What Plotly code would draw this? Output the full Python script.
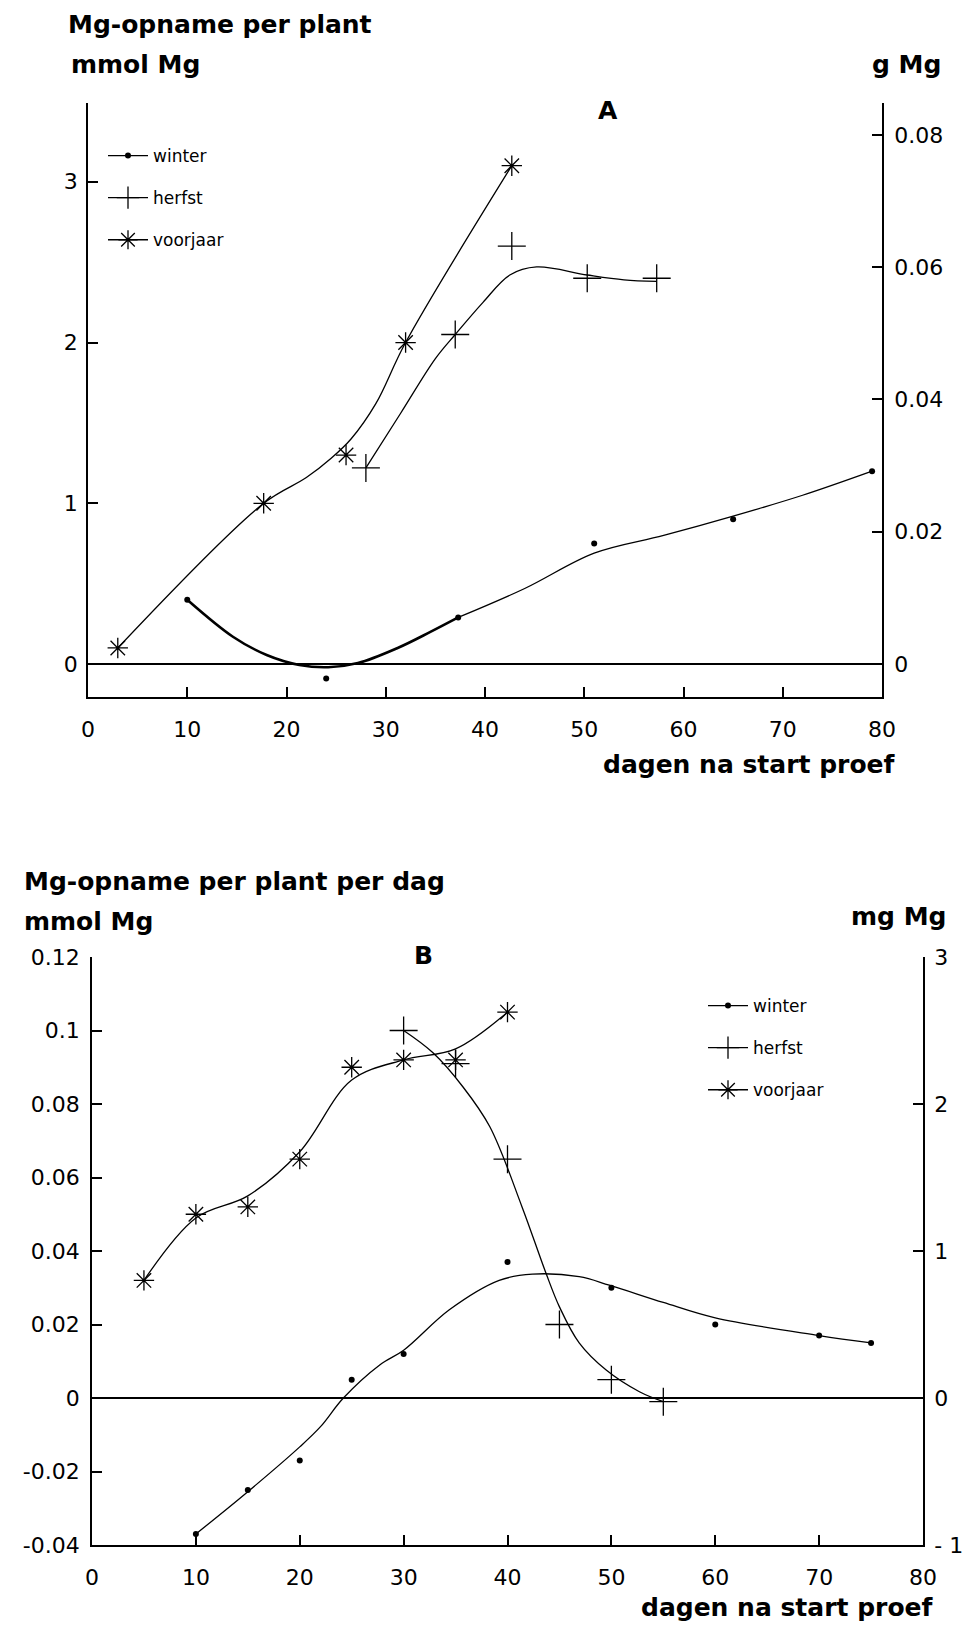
import plotly.graph_objects as go

W, H = 967, 1629

# ---------------- Panel A: cumulative Mg uptake per plant (mmol Mg) ----------------
a_winter_days = [10, 24, 37.3, 51, 65, 79]
a_winter_mmol = [0.40, -0.09, 0.29, 0.75, 0.90, 1.20]
a_herfst_days = [28, 37, 42.7, 50.3, 57.3]
a_herfst_mmol = [1.22, 2.05, 2.60, 2.40, 2.40]
a_voorjaar_days = [3, 17.7, 26, 32, 42.7]
a_voorjaar_mmol = [0.10, 1.00, 1.30, 2.00, 3.10]

# hand-fitted trend curves (knots)
a_winter_fit1_days = [10, 14.6, 18, 21.3, 24.2, 27.2, 31.2, 34.5, 37.3]
a_winter_fit1_mmol = [0.40, 0.17, 0.056, -0.006, -0.02, 0.006, 0.10, 0.20, 0.29]
a_winter_fit2_days = [37.3, 44, 51, 58, 65, 72, 79]
a_winter_fit2_mmol = [0.29, 0.47, 0.69, 0.80, 0.92, 1.05, 1.20]
a_herfst_fit_days = [28, 31.5, 35, 37, 39.8, 42.5, 45.2, 50.3, 54, 57.3]
a_herfst_fit_mmol = [1.22, 1.56, 1.90, 2.05, 2.25, 2.42, 2.47, 2.42, 2.39, 2.38]
a_voorjaar_fit_days = [3, 17.7, 22, 24.5, 26.5, 29, 32, 42.7]
a_voorjaar_fit_mmol = [0.10, 1.00, 1.16, 1.28, 1.40, 1.62, 2.00, 3.10]

a_x_ticks = [0, 10, 20, 30, 40, 50, 60, 70, 80]
a_y_ticks = [0, 1, 2, 3]
a_y2_ticks = [0, 0.02, 0.04, 0.06, 0.08]
a_y2_text = ["0", "0.02", "0.04", "0.06", "0.08"]
a_y_range = [-0.205, 3.49]
MG_G_PER_MMOL = 0.024305

# ---------------- Panel B: Mg uptake per plant per day (mmol Mg) ----------------
b_winter_days = [10, 15, 20, 25, 30, 40, 50, 60, 70, 75]
b_winter_mmol = [-0.037, -0.025, -0.017, 0.005, 0.012, 0.037, 0.030, 0.020, 0.017, 0.015]
b_herfst_days = [30, 35, 40, 45, 50, 55]
b_herfst_mmol = [0.100, 0.091, 0.065, 0.020, 0.005, -0.001]
b_voorjaar_days = [5, 10, 15, 20, 25, 30, 35, 40]
b_voorjaar_mmol = [0.032, 0.050, 0.052, 0.065, 0.090, 0.092, 0.092, 0.105]

b_winter_fit_days = [10, 15, 20, 22, 24.2, 27.7, 30, 34.4, 39.2, 42.4, 46.9, 49.8,
                     55, 60, 70, 75]
b_winter_fit_mmol = [-0.037, -0.0255, -0.0133, -0.0078, 0.0, 0.009, 0.013, 0.024,
                     0.032, 0.0337, 0.033, 0.0307, 0.026, 0.0218, 0.017, 0.015]
b_herfst_fit_days = [30, 32.8, 35.7, 38.3, 41.4, 43.7, 45, 46.9, 49.5, 52.7, 55]
b_herfst_fit_mmol = [0.100, 0.094, 0.0847, 0.0738, 0.052, 0.034, 0.0248, 0.015,
                     0.0076, 0.0017, -0.001]
b_voorjaar_fit_days = [5, 10, 15, 20, 25, 30, 35, 40]
b_voorjaar_fit_mmol = [0.032, 0.049, 0.055, 0.067, 0.0865, 0.092, 0.095, 0.105]

b_x_ticks = [0, 10, 20, 30, 40, 50, 60, 70, 80]
b_y_ticks = [-0.04, -0.02, 0, 0.02, 0.04, 0.06, 0.08, 0.1, 0.12]
b_y_text = ["-0.04", "-0.02", "0", "0.02", "0.04", "0.06", "0.08", "0.1", "0.12"]
b_y2_ticks = [-1, 0, 1, 2, 3]
b_y2_text = ["- 1", "0", "1", "2", "3"]

series_names = ["winter", "herfst", "voorjaar"]

# ---------------- styling ----------------
INK = "black"
TICK_FONT = dict(family="DejaVu Sans", size=22, color=INK)
LEG_FONT = dict(family="DejaVu Sans", size=17, color=INK)

MARK = {
    "winter": dict(symbol="circle", size=6, color=INK),
    "herfst": dict(symbol="cross-thin-open", size=20, color=INK, line=dict(width=1.3, color=INK)),
    "voorjaar": dict(symbol="asterisk-open", size=17, color=INK, line=dict(width=1.3, color=INK)),
}


def px_x(p):
    return p / W


def px_y(p):
    return 1 - p / H


fig = go.Figure()


def add_curve(x, y, xa, ya, width=1.3):
    fig.add_trace(go.Scatter(x=x, y=y, xaxis=xa, yaxis=ya, mode="lines",
                             line=dict(color=INK, width=width, shape="spline", smoothing=1.0),
                             showlegend=False, hoverinfo="skip"))


def add_points(x, y, xa, ya, name):
    fig.add_trace(go.Scatter(x=x, y=y, xaxis=xa, yaxis=ya, mode="markers",
                             marker=MARK[name], showlegend=False, name=name))


def add_legend_entry(name, xa, ya, legend):
    fig.add_trace(go.Scatter(x=[None], y=[None], xaxis=xa, yaxis=ya, mode="lines+markers",
                             name=name, marker=MARK[name], line=dict(color=INK, width=1.3),
                             legend=legend, legendgroup=legend + name, showlegend=True))


# Panel A
add_curve(a_winter_fit1_days, a_winter_fit1_mmol, "x", "y", width=2.6)
add_curve(a_winter_fit2_days, a_winter_fit2_mmol, "x", "y")
add_curve(a_herfst_fit_days, a_herfst_fit_mmol, "x", "y")
add_curve(a_voorjaar_fit_days, a_voorjaar_fit_mmol, "x", "y")
add_points(a_winter_days, a_winter_mmol, "x", "y", "winter")
add_points(a_herfst_days, a_herfst_mmol, "x", "y", "herfst")
add_points(a_voorjaar_days, a_voorjaar_mmol, "x", "y", "voorjaar")
fig.add_trace(go.Scatter(x=[None], y=[None], xaxis="x", yaxis="y2", showlegend=False))
for n in series_names:
    add_legend_entry(n, "x", "y", "legend")

# Panel B
add_curve(b_winter_fit_days, b_winter_fit_mmol, "x2", "y3")
add_curve(b_herfst_fit_days, b_herfst_fit_mmol, "x2", "y3")
add_curve(b_voorjaar_fit_days, b_voorjaar_fit_mmol, "x2", "y3")
add_points(b_winter_days, b_winter_mmol, "x2", "y3", "winter")
add_points(b_herfst_days, b_herfst_mmol, "x2", "y3", "herfst")
add_points(b_voorjaar_days, b_voorjaar_mmol, "x2", "y3", "voorjaar")
fig.add_trace(go.Scatter(x=[None], y=[None], xaxis="x2", yaxis="y4", showlegend=False))
for n in series_names:
    add_legend_entry(n, "x2", "y3", "legend2")

axis_common = dict(showline=True, linecolor=INK, linewidth=1.8, ticks="inside",
                   ticklen=10, tickwidth=1.5, tickcolor=INK, showgrid=False,
                   tickfont=TICK_FONT, fixedrange=True, automargin=False)

a_dom_x = [px_x(88), px_x(882)]
a_dom_y = [px_y(697), px_y(103)]
b_dom_x = [px_x(92), px_x(923)]
b_dom_y = [px_y(1545), px_y(957)]

fig.update_layout(
    width=W, height=H, autosize=False,
    margin=dict(l=0, r=0, t=0, b=0, pad=0),
    paper_bgcolor="white", plot_bgcolor="white",
    xaxis=dict(domain=a_dom_x, range=[0, 80], anchor="y", tickvals=a_x_ticks,
               zeroline=False, ticklabelstandoff=12, **axis_common),
    yaxis=dict(domain=a_dom_y, range=a_y_range, anchor="x", tickvals=a_y_ticks,
               zeroline=True, zerolinecolor=INK, zerolinewidth=2,
               ticklabelstandoff=4, **axis_common),
    yaxis2=dict(range=[a_y_range[0] * MG_G_PER_MMOL, a_y_range[1] * MG_G_PER_MMOL],
                overlaying="y", side="right", anchor="x", tickvals=a_y2_ticks,
                ticktext=a_y2_text, zeroline=False, ticklabelstandoff=6, **axis_common),
    xaxis2=dict(domain=b_dom_x, range=[0, 80], anchor="y3", tickvals=b_x_ticks,
                zeroline=False, ticklabelstandoff=12, **axis_common),
    yaxis3=dict(domain=b_dom_y, range=[-0.04, 0.12], anchor="x2", tickvals=b_y_ticks,
                ticktext=b_y_text, zeroline=True, zerolinecolor=INK, zerolinewidth=1.6,
                ticklabelstandoff=6, **axis_common),
    yaxis4=dict(range=[-1, 3], overlaying="y3", side="right", anchor="x2",
                tickvals=b_y2_ticks, ticktext=b_y2_text, zeroline=False,
                ticklabelstandoff=5, **axis_common),
    legend=dict(x=px_x(103), y=px_y(138), xanchor="left", yanchor="top",
                bgcolor="rgba(0,0,0,0)", font=LEG_FONT, tracegroupgap=17,
                itemwidth=40, itemclick=False, itemdoubleclick=False),
    legend2=dict(x=px_x(703), y=px_y(988), xanchor="left", yanchor="top",
                 bgcolor="rgba(0,0,0,0)", font=LEG_FONT, tracegroupgap=17,
                 itemwidth=40, itemclick=False, itemdoubleclick=False),
    showlegend=True,
)


def label(text, x, y, xanchor="left", size=25):
    fig.add_annotation(text="<b>" + text + "</b>", x=px_x(x), y=px_y(y), xref="paper",
                       yref="paper", xanchor=xanchor, yanchor="middle", showarrow=False,
                       font=dict(family="DejaVu Sans", size=size, color=INK))


label("Mg-opname per plant", 66, 25)
label("mmol Mg", 69, 64)
label("g Mg", 943, 64, xanchor="right")
label("A", 608, 110, xanchor="center")
label("dagen na start proef", 898, 764, xanchor="right")

label("Mg-opname per plant per dag", 22, 882)
label("mmol Mg", 22, 921)
label("mg Mg", 948, 916, xanchor="right")
label("B", 423, 956, xanchor="center")
label("dagen na start proef", 936, 1607, xanchor="right")

# page without default body margin so the figure sits at the window origin
fig.write_html("out.html",
               post_script="document.body.style.margin='0';document.body.style.padding='0';")
